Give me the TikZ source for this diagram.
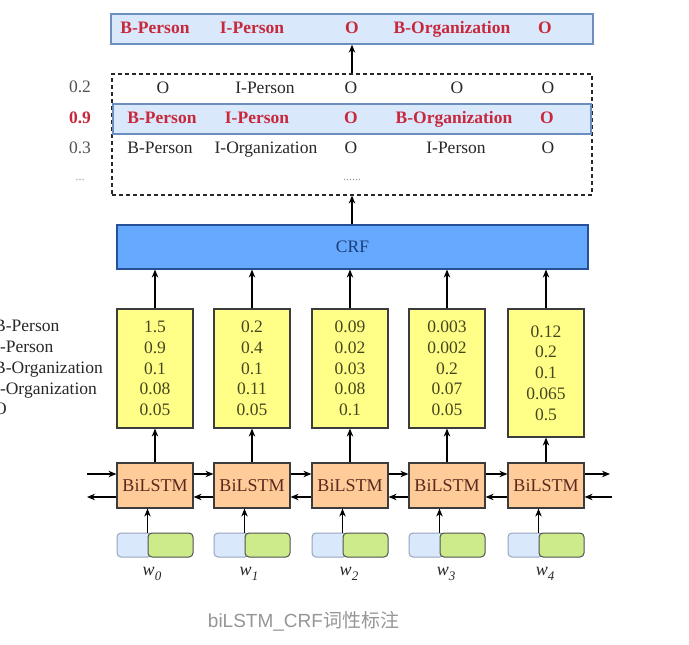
\documentclass[tikz,border=0pt]{standalone}
\usepackage{fontspec}
\setmainfont{Liberation Serif}
\newfontfamily\capsans{Liberation Sans}
\newfontfamily\capcjk{Noto Sans CJK SC}
\usetikzlibrary{arrows.meta,calc}
\definecolor{redc}{RGB}{200,40,60}
\definecolor{topfill}{RGB}{218,232,252}
\definecolor{topdraw}{RGB}{108,142,191}
\definecolor{crffill}{RGB}{102,170,255}
\definecolor{crfdraw}{RGB}{40,80,150}
\definecolor{crftext}{RGB}{30,60,120}
\definecolor{yfill}{RGB}{255,255,136}
\definecolor{boxdraw}{RGB}{60,60,60}
\definecolor{numtext}{RGB}{70,70,30}
\definecolor{bfill}{RGB}{255,204,153}
\definecolor{btext}{RGB}{90,40,30}
\definecolor{eblue}{RGB}{218,232,252}
\definecolor{ebluedraw}{RGB}{150,165,190}
\definecolor{egreen}{RGB}{205,235,139}
\definecolor{egreendraw}{RGB}{80,80,80}
\definecolor{captext}{RGB}{150,150,150}
\definecolor{txt}{RGB}{40,40,40}
\newcommand{\wsub}[1]{w\raisebox{-5pt}{\fontsize{13}{13}\selectfont #1}}
\begin{document}
\begin{tikzpicture}[x=1pt,y=-1pt,
  arr/.style={-{Stealth[length=8pt,width=6.5pt]}, line width=1.2pt, black},
  lbl/.style={font=\fontsize{17.5}{20.8}\selectfont, inner sep=0pt, text=txt, text height=12pt, text depth=4pt},
  redb/.style={font=\fontsize{17.5}{20.8}\selectfont\bfseries, inner sep=0pt, text=redc, text height=12pt, text depth=4pt},
  topbox/.style={draw=topdraw, fill=topfill, line width=1.3pt, inner sep=0pt},
  ybox/.style={draw=boxdraw, fill=yfill, line width=1.2pt, minimum width=76pt, align=center,
     font=\fontsize{17.5}{20.8}\selectfont, text=numtext, inner sep=0pt},
  bbox/.style={draw=boxdraw, fill=bfill, line width=1.2pt, minimum width=76pt, minimum height=45pt,
     font=\fontsize{18}{20}\selectfont, text=btext, inner sep=0pt},
  embb/.style={draw=ebluedraw, fill=eblue, line width=1pt, rounded corners=4pt, minimum width=35pt, minimum height=24pt, inner sep=0pt},
  embg/.style={draw=egreendraw, fill=egreen, line width=1pt, rounded corners=4pt, minimum width=45pt, minimum height=24pt, inner sep=0pt},
  wl/.style={font=\fontsize{18}{20}\selectfont\itshape, text=txt, inner sep=0pt}
]
\useasboundingbox (0,0) rectangle (689,645);
\fill[white] (0,0) rectangle (689,645);

% top result box
\node[topbox, minimum width=482pt, minimum height=30pt] (top) at (352,29) {};
\node[redb] (t1) at (155,29) {B-Person};
\node[redb] (t2) at (252,29) {I-Person};
\node[redb] (t3) at (352,29) {O};
\node[redb] (t4) at (452,29) {B-Organization};
\node[redb] (t5) at (545,29) {O};

% dashed candidate box
\node[draw=txt, dash pattern=on 4pt off 3pt, line width=1.2pt, minimum width=480pt, minimum height=121pt, inner sep=0pt] (dash) at (352,134.5) {};
\node[topbox, minimum width=478pt, minimum height=30pt] (hrow) at (352,119) {};

\node[lbl] (r1a) at (163,89) {O};
\node[lbl] (r1b) at (265,89) {I-Person};
\node[lbl] (r1c) at (351,89) {O};
\node[lbl] (r1d) at (457,89) {O};
\node[lbl] (r1e) at (548,89) {O};

\node[redb] (r2a) at (162,119) {B-Person};
\node[redb] (r2b) at (257,119) {I-Person};
\node[redb] (r2c) at (351,119) {O};
\node[redb] (r2d) at (454,119) {B-Organization};
\node[redb] (r2e) at (547,119) {O};

\node[lbl] (r3a) at (160,149) {B-Person};
\node[lbl] (r3b) at (266,149) {I-Organization};
\node[lbl] (r3c) at (351,149) {O};
\node[lbl] (r3d) at (456,149) {I-Person};
\node[lbl] (r3e) at (548,149) {O};

\node[lbl, text=captext, font=\fontsize{12}{14}\selectfont] (r4c) at (352,176) {......};

\node[lbl, text=txt!80] (s1) at (80,88) {0.2};
\node[redb] (s2) at (80,119) {0.9};
\node[lbl, text=txt!80] (s3) at (80,149) {0.3};
\node[lbl, text=captext, font=\fontsize{12}{14}\selectfont] (s4) at (80,176) {...};

% CRF
\node[draw=crfdraw, fill=crffill, line width=1.2pt, minimum width=471pt, minimum height=44pt, inner sep=0pt,
  font=\fontsize{17.5}{20}\selectfont, text=crftext] (crf) at (352.5,247) {CRF};

% emission score boxes
\node[ybox, minimum height=119pt] (y0) at (155,368.5) {1.5\\0.9\\0.1\\0.08\\0.05};
\node[ybox, minimum height=119pt] (y1) at (252,368.5) {0.2\\0.4\\0.1\\0.11\\0.05};
\node[ybox, minimum height=119pt] (y2) at (350,368.5) {0.09\\0.02\\0.03\\0.08\\0.1};
\node[ybox, minimum height=119pt] (y3) at (447,368.5) {0.003\\0.002\\0.2\\0.07\\0.05};
\node[ybox, minimum height=128pt] (y4) at (546,373) {0.12\\0.2\\0.1\\0.065\\0.5};

% tag labels on the left (cut by the edge, as in the reference)
\begin{scope}
\clip (0,0) rectangle (689,645);
\node[lbl, anchor=west] (l1) at (-6,327) {B-Person};
\node[lbl, anchor=west] (l2) at (-6,348) {I-Person};
\node[lbl, anchor=west] (l3) at (-6,369) {B-Organization};
\node[lbl, anchor=west] (l4) at (-6,390) {I-Organization};
\node[lbl, anchor=west] (l5) at (-6,410) {O};
\end{scope}

% BiLSTM boxes
\node[bbox] (b0) at (155,485.5) {BiLSTM};
\node[bbox] (b1) at (252,485.5) {BiLSTM};
\node[bbox] (b2) at (350,485.5) {BiLSTM};
\node[bbox] (b3) at (447,485.5) {BiLSTM};
\node[bbox] (b4) at (546,485.5) {BiLSTM};

% embeddings
\foreach \i/\c in {0/155,1/252,2/350,3/447,4/546}{
  \node[embb] (e\i b) at (\c-38+17.5,545) {};
  \node[embg] (e\i g) at (\c-7+22.5,545) {};
}

% word labels
\node[wl] (w0) at (152,574) {\wsub{0}};
\node[wl] (w1) at (249,574) {\wsub{1}};
\node[wl] (w2) at (349,574) {\wsub{2}};
\node[wl] (w3) at (446,574) {\wsub{3}};
\node[wl] (w4) at (545,574) {\wsub{4}};

% arrows: embedding -> BiLSTM -> scores -> CRF
\foreach \i in {0,...,4}{
  \draw[arr] (e\i g.north west) -- (e\i g.north west |- b\i.south);
  \draw[arr] (b\i.north) -- (y\i.south);
  \draw[arr] (y\i.north) -- (y\i.north |- crf.south);
}
\draw[arr] (crf.north -| dash.south) -- (dash.south);
\draw[arr] (dash.north) -- (top.south);

% recurrent arrows
\foreach \i/\j in {0/1,1/2,2/3,3/4}{
  \draw[arr] ([yshift=11.5pt]b\i.east) -- ([yshift=11.5pt]b\j.west);
  \draw[arr] ([yshift=-11.5pt]b\j.west) -- ([yshift=-11.5pt]b\i.east);
}
\coordinate (inL) at (87,474);
\coordinate (outL) at (87,497);
\coordinate (outR) at (610,474);
\coordinate (inR) at (612,497);
\draw[arr] (inL) -- ([yshift=11.5pt]b0.west);
\draw[arr] ([yshift=-11.5pt]b0.west) -- (outL);
\draw[arr] ([yshift=11.5pt]b4.east) -- (outR);
\draw[arr] (inR) -- ([yshift=-11.5pt]b4.east);

% caption
\node[inner sep=0pt, text=captext, font=\fontsize{19}{22}\selectfont] (cap) at (303.5,621) {\capsans biLSTM\_CRF\capcjk 词性标注};
\end{tikzpicture}
\end{document}
